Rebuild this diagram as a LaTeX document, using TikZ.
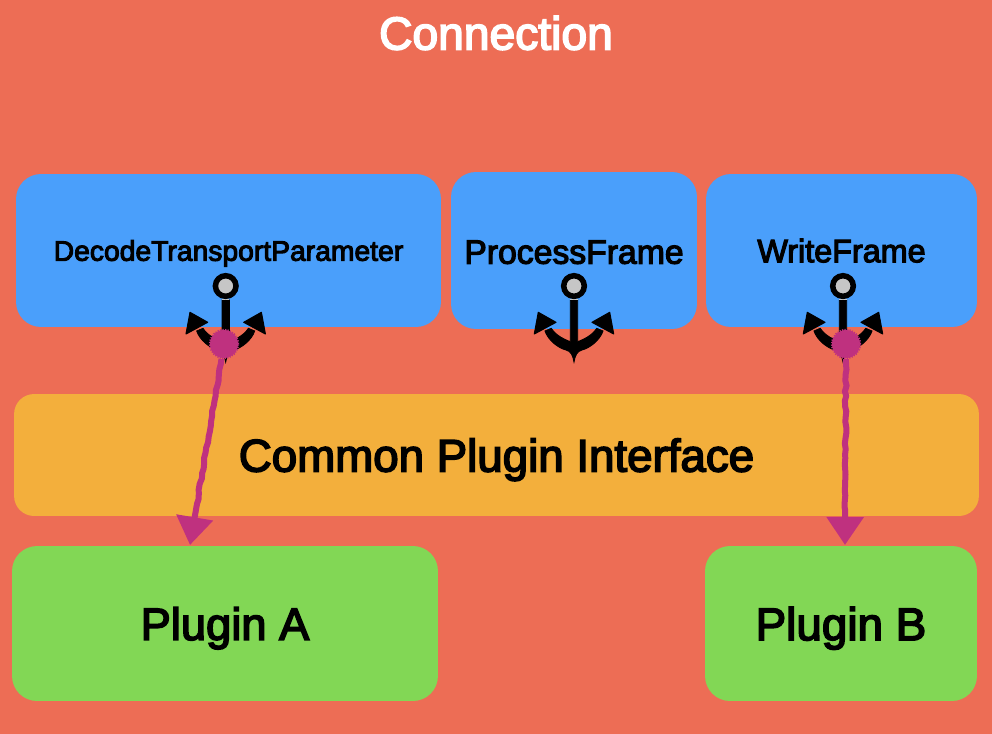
\documentclass[tikz,border=0pt]{standalone}
\usepackage{fontspec}
\usepackage{xcolor}
\setmainfont[FakeBold=3.5]{Liberation Sans}
\usetikzlibrary{arrows.meta, decorations.pathmorphing}
\definecolor{bgred}{HTML}{ED6D55}
\definecolor{boxblue}{HTML}{4A9FFB}
\definecolor{boxorange}{HTML}{F3AF3C}
\definecolor{boxgreen}{HTML}{82D755}
\definecolor{penpink}{HTML}{BF317F}
\definecolor{ringgray}{HTML}{C6C6C6}
\tikzset{
  box/.style={rounded corners=0.5cm, inner sep=0pt, text=black, text depth=0pt, font=\fontsize{25.8}{30}\selectfont},
  pendot/.style={circle, fill=penpink, draw=penpink, line width=1.3pt, dash pattern=on 0.7pt off 0.7pt,
    inner sep=0pt, minimum size=0.56cm},
  penline/.style={draw=penpink, line width=0.12cm, decorate,
    decoration={random steps, segment length=3pt, amplitude=0.45pt, post=lineto, post length=0.7cm},
    -{Triangle[length=0.56cm, width=0.72cm]}},
  anchormark/.pic={
    \filldraw[black, line width=0.5pt] (-29,45) .. controls (-26,54) and (-16,62) .. (-8,64) .. controls (-3,65) and (-1,70) .. (0,76)
      .. controls (1,70) and (3,65) .. (8,64) .. controls (16,62) and (26,54) .. (29,45)
      -- (22.7,42.3) .. controls (18,50) and (8,54) .. (3.7,55.7) -- (3.7,14) -- (-3.7,14) -- (-3.7,55.7)
      .. controls (-8,54) and (-18,50) .. (-22.7,42.3) -- cycle;
    \filldraw[black, line width=0.6pt, line join=round] (-35.7,26.3) -- (-18,36.3) -- (-39.7,48) -- cycle;
    \filldraw[black, line width=0.6pt, line join=round] (35.7,26.3) -- (18,36.3) -- (39.7,48) -- cycle;
    \draw[ringgray, line width=0.4pt] (-3.7,13.5) -- (3.7,13.5);
    \draw[draw=black, fill=ringgray, line width=0.11cm] (0,0) circle (10.3);
  }
}
\pgfmathsetseed{7}
\begin{document}
\begin{tikzpicture}[x=0.02cm, y=-0.02cm]
\fill[bgred] (0,0) rectangle (992,734);
\useasboundingbox (0,0) rectangle (992,734);
\node[font=\fontsize{26.3}{30}\selectfont, text=white] (title) at (496,33) {Connection};
% hook boxes
\node[box, fill=boxblue, minimum width=8.5cm, minimum height=3.06cm, font=\fontsize{16.1}{19}\selectfont] (decodebox) at (228.5,250.5) {DecodeTransportParameter};
\node[box, fill=boxblue, minimum width=4.92cm, minimum height=3.14cm, font=\fontsize{19.2}{22}\selectfont, text height=15pt] (processbox) at (574,250.5) {ProcessFrame};
\node[box, fill=boxblue, minimum width=5.42cm, minimum height=3.06cm, font=\fontsize{18.4}{22}\selectfont] (writebox) at (841.5,250.5) {WriteFrame};
\node[box, fill=boxorange, rounded corners=0.4cm, minimum width=19.3cm, minimum height=2.44cm, font=\fontsize{26}{30}\selectfont] (commonbox) at (496.5,455) {Common Plugin Interface};
\node[box, fill=boxgreen, minimum width=8.52cm, minimum height=3.1cm] (pluginA) at (225,623.5) {Plugin A};
\node[box, fill=boxgreen, minimum width=5.44cm, minimum height=3.1cm, font=\fontsize{26.1}{30}\selectfont] (pluginB) at (841,623.5) {Plugin B};
% anchors
\pic at (225.7,286) {anchormark};
\pic at (574,286) {anchormark};
\pic at (843,286) {anchormark};
% hooked plugins
\node[pendot] (dotA) at (224,344) {};
\node[pendot] (dotB) at (846,344) {};
\coordinate (tipA) at (190,545);
\coordinate (tipB) at (845,545);
\draw[penline] (dotA) -- (tipA);
\draw[penline] (dotB) -- (tipB);
\end{tikzpicture}
\end{document}
